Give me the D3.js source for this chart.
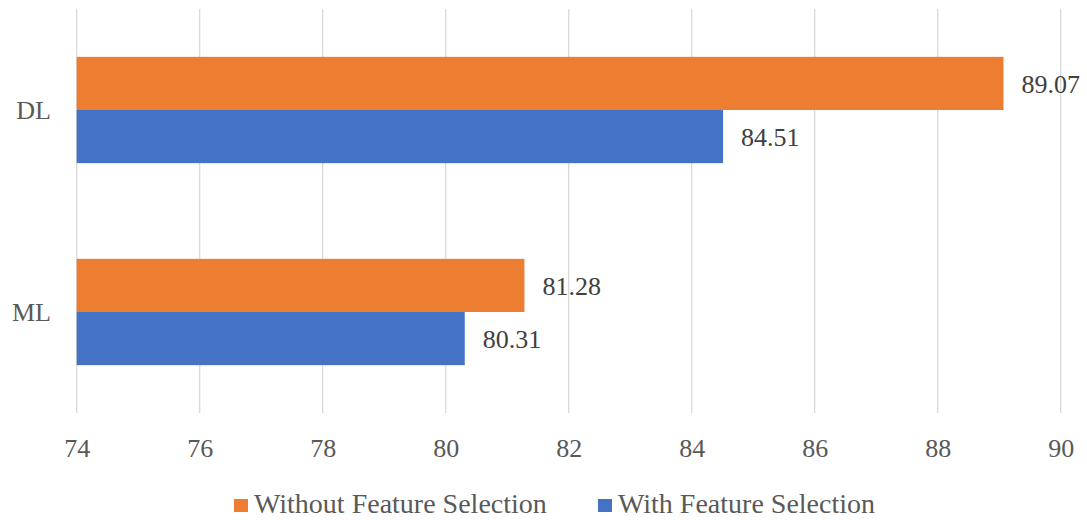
<!DOCTYPE html>
<html><head><meta charset="utf-8">
<script src="https://cdn.jsdelivr.net/npm/d3@7"></script>
<style>body{margin:0;background:#fff}svg{display:block}</style>
</head><body><svg id="c" width="1087" height="520"></svg>
<script>
const categories = ["DL", "ML"];
const seriesNames = ["Without Feature Selection", "With Feature Selection"];
const withoutFS = [89.07, 81.28];
const withFS = [84.51, 80.31];
const xTicks = [74, 76, 78, 80, 82, 84, 86, 88, 90];
const colors = ["#ED7D31", "#4472C4"];

(function () {
const svg = d3.select("#c").attr("font-family", "Liberation Serif");
const pLeft = 76.7, pRight = 1060.7, pTop = 9, pBottom = 413;
const x = d3.scaleLinear().domain([74, 90]).range([pLeft, pRight]);
const y = d3.scaleBand().domain(categories).range([pTop, pBottom]).paddingInner(0).paddingOuter(0);
const sub = d3.scaleBand().domain(seriesNames).range([0, y.bandwidth()]).paddingInner(0).paddingOuter(0.9);

svg.append("g").selectAll("line").data(xTicks).join("line")
  .attr("x1", d => x(d)).attr("x2", d => x(d))
  .attr("y1", pTop).attr("y2", pBottom)
  .attr("stroke", "#D9D9D9").attr("stroke-width", 1.3);

const axis = d3.axisBottom(x).tickValues(xTicks).tickSize(0).tickPadding(0);
const ag = svg.append("g").attr("transform", `translate(0,${pBottom})`).call(axis);
ag.select(".domain").remove();
ag.attr("font-family", "Liberation Serif").attr("font-size", 26);
ag.selectAll("text").attr("dy", "0.35em").attr("y", 35).attr("fill", "#595959");

const data = categories.map((c, i) => ({cat: c, vals: [withoutFS[i], withFS[i]]}));
const groups = svg.append("g").selectAll("g").data(data).join("g")
  .attr("transform", d => `translate(0,${y(d.cat)})`);
groups.selectAll("rect").data(d => d.vals.map((v, j) => ({v, s: seriesNames[j], j}))).join("rect")
  .attr("x", x(74)).attr("y", d => sub(d.s))
  .attr("width", d => x(d.v) - x(74)).attr("height", sub.bandwidth())
  .attr("fill", d => colors[d.j]);
groups.selectAll("text.val").data(d => d.vals.map((v, j) => ({v, s: seriesNames[j], j}))).join("text")
  .attr("class", "val")
  .attr("x", d => x(d.v) + 18).attr("y", d => sub(d.s) + sub.bandwidth() / 2)
  .attr("dy", "0.35em")
  .attr("font-size", 26).attr("fill", "#404040")
  .text(d => d.v.toFixed(2));

svg.append("g").selectAll("text").data(categories).join("text")
  .attr("x", 51).attr("y", d => y(d) + y.bandwidth() / 2).attr("dy", "0.35em")
  .attr("text-anchor", "end")
  .attr("font-size", 26).attr("fill", "#595959")
  .text(d => d);

const legX = [234, 598];
const lg = svg.append("g").selectAll("g").data(seriesNames).join("g")
  .attr("transform", (d, i) => `translate(${legX[i]},0)`);
lg.append("rect").attr("x", 0).attr("y", 499).attr("width", 14).attr("height", 13)
  .attr("fill", (d, i) => colors[i]);
lg.append("text").attr("x", 20).attr("y", 513)
  .attr("font-size", 28).attr("fill", "#595959")
  .text(d => d);
})();
</script></body></html>
